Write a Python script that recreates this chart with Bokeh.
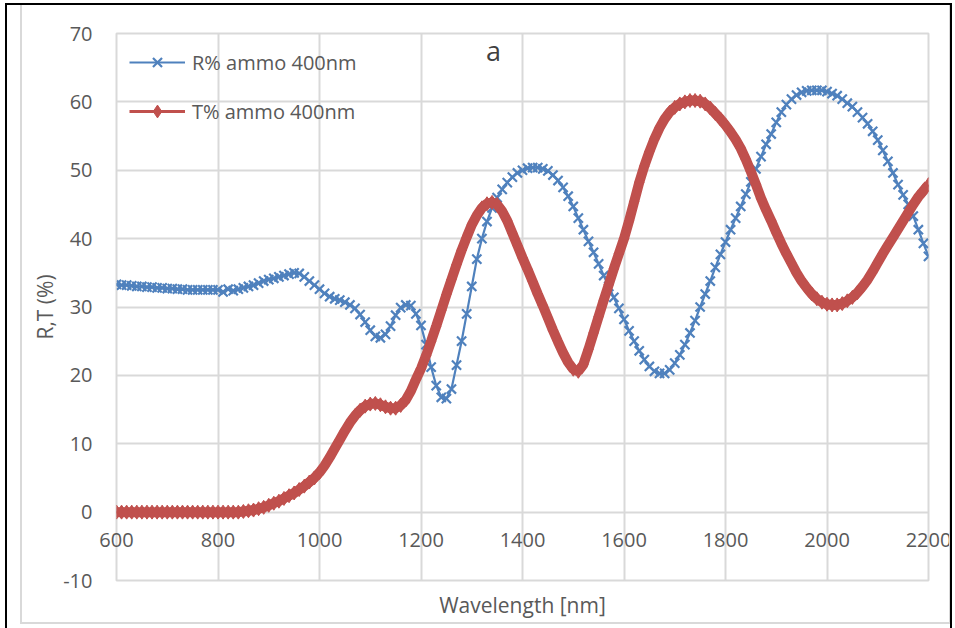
from bokeh.plotting import figure
from bokeh.models import FixedTicker, Label, LegendItem, Legend, InlineStyleSheet
from bokeh.embed import file_html
from bokeh.resources import INLINE

# ---------------- data ----------------
wavelength = list(range(600, 2201, 10))

R_percent = [
    33.3, 33.2, 33.2, 33.1, 33.0, 33.0, 32.9, 32.9, 32.8, 32.8,   # 600-690
    32.7, 32.7, 32.6, 32.6, 32.5, 32.5, 32.5, 32.5, 32.5, 32.5,   # 700-790
    32.5, 32.2, 32.6, 32.4, 32.6, 32.8, 33.0, 33.2, 33.5, 33.8,   # 800-890
    34.0, 34.2, 34.4, 34.6, 34.8, 35.0, 34.9, 34.4, 33.8, 33.2,   # 900-990
    32.6, 32.0, 31.5, 31.2, 31.0, 30.7, 30.3, 29.8, 28.9, 27.8,   # 1000-1090
    26.6, 25.7, 25.5, 26.0, 27.2, 28.8, 29.9, 30.3, 30.2, 29.0,   # 1100-1190
    27.3, 24.5, 21.2, 18.5, 16.8, 16.6, 18.0, 21.5, 25.0, 29.0,   # 1200-1290
    33.0, 37.0, 40.0, 42.5, 44.5, 46.0, 47.2, 48.2, 49.0, 49.6,   # 1300-1390
    50.0, 50.3, 50.4, 50.4, 50.2, 49.9, 49.3, 48.5, 47.5, 46.2,   # 1400-1490
    44.7, 43.0, 41.3, 39.6, 38.0, 36.3, 34.6, 33.0, 31.4, 29.8,   # 1500-1590
    28.2, 26.5, 25.0, 23.6, 22.3, 21.3, 20.6, 20.3, 20.3, 20.8,   # 1600-1690
    21.8, 23.0, 24.5, 26.2, 28.0, 30.0, 31.9, 33.8, 35.8, 37.7,   # 1700-1790
    39.5, 41.3, 43.0, 44.7, 46.5, 48.3, 50.2, 52.0, 53.8, 55.3,   # 1800-1890
    57.0, 58.5, 59.6, 60.4, 61.0, 61.4, 61.6, 61.7, 61.7, 61.7,   # 1900-1990
    61.5, 61.2, 60.9, 60.4, 59.8, 59.3, 58.5, 57.7, 56.8, 55.7,   # 2000-2090
    54.4, 52.9, 51.3, 49.6, 47.9, 46.4, 45.0, 43.3, 41.3, 39.3,   # 2100-2190
    37.4,                                                         # 2200
]

T_percent = [
    0.0, 0.0, 0.0, 0.0, 0.0, 0.0, 0.0, 0.0, 0.0, 0.0,             # 600-690
    0.0, 0.0, 0.0, 0.0, 0.0, 0.0, 0.0, 0.0, 0.0, 0.0,             # 700-790
    0.0, 0.0, 0.0, 0.0, 0.0, 0.1, 0.2, 0.3, 0.5, 0.7,             # 800-890
    1.0, 1.3, 1.6, 2.0, 2.4, 2.8, 3.3, 3.8, 4.4, 5.0,             # 900-990
    5.8, 6.8, 8.0, 9.3, 10.6, 11.9, 13.1, 14.1, 14.9, 15.5,       # 1000-1090
    15.8, 15.9, 15.7, 15.4, 15.2, 15.2, 15.6, 16.4, 17.7, 19.4,   # 1100-1190
    21.0, 22.9, 25.0, 27.2, 29.5, 31.8, 34.0, 36.2, 38.3, 40.2,   # 1200-1290
    42.0, 43.4, 44.5, 45.1, 45.3, 45.0, 44.0, 42.6, 40.8, 39.0,   # 1300-1390
    37.2, 35.5, 33.7, 31.9, 30.2, 28.4, 26.6, 24.9, 23.3, 21.9,   # 1400-1490
    20.9, 20.6, 21.6, 23.8, 26.2, 28.6, 31.0, 33.3, 35.6, 37.8,   # 1500-1590
    40.0, 42.6, 45.4, 48.2, 50.6, 52.7, 54.6, 56.2, 57.5, 58.5,   # 1600-1690
    59.2, 59.7, 60.0, 60.2, 60.2, 60.1, 59.7, 59.1, 58.3, 57.5,   # 1700-1790
    56.6, 55.6, 54.5, 53.2, 51.6, 49.8, 47.9, 45.9, 44.2, 42.6,   # 1800-1890
    40.9, 39.3, 37.8, 36.4, 35.0, 33.8, 32.8, 31.9, 31.2, 30.7,   # 1900-1990
    30.4, 30.3, 30.3, 30.5, 30.9, 31.4, 32.1, 33.0, 34.0, 35.2,   # 2000-2090
    36.5, 37.8, 39.0, 40.2, 41.4, 42.6, 43.8, 45.0, 46.1, 47.0,   # 2100-2190
    47.9,                                                         # 2200
]

x_ticks = [600, 800, 1000, 1200, 1400, 1600, 1800, 2000, 2200]
y_ticks = [-10, 0, 10, 20, 30, 40, 50, 60, 70]

series_R_label = "R% ammo 400nm"
series_T_label = "T% ammo 400nm"
x_label = "Wavelength [nm]"
y_label = "R,T (%)"
panel_tag = "a"

# ---------------- styling ----------------
BLUE = "#4F81BD"
RED = "#C0504D"
GRID = "#D9D9D9"
TEXT = "#595959"
FONT = "Open Sans"

frame_css = InlineStyleSheet(css="""
:host::before { content: ""; position: absolute; left: 20px; top: 3px; width: 931px; height: 621px;
  border: 2px solid #D9D9D9; box-sizing: border-box; z-index: 5; pointer-events: none; }
:host::after { content: ""; position: absolute; left: 5px; top: 3px; width: 947px; height: 700px;
  border: 2.5px solid #000000; box-sizing: border-box; z-index: 6; pointer-events: none; }
""")

p = figure(width=955, height=628, output_backend="svg", toolbar_location=None,
           x_range=(600, 2200), y_range=(-10, 70),
           min_border_left=116, min_border_right=27,
           min_border_top=33, min_border_bottom=48,
           background_fill_color="white", border_fill_color="white",
           stylesheets=[frame_css])

p.outline_line_color = GRID
p.outline_line_width = 2

# grid
p.xgrid.ticker = FixedTicker(ticks=x_ticks)
p.ygrid.ticker = FixedTicker(ticks=y_ticks)
for g in (p.xgrid, p.ygrid):
    g.grid_line_color = GRID
    g.grid_line_width = 2

# y axis
ya = p.yaxis[0]
ya.ticker = FixedTicker(ticks=y_ticks)
ya.major_label_overrides = {t: str(t) for t in y_ticks}
ya.axis_line_color = None
ya.major_tick_line_color = None
ya.minor_tick_line_color = None
ya.major_label_text_font = FONT
ya.major_label_text_font_size = "20px"
ya.major_label_text_color = TEXT
ya.major_label_standoff = 18
ya.axis_label = y_label
ya.axis_label_text_font = FONT
ya.axis_label_text_font_size = "21px"
ya.axis_label_text_font_style = "normal"
ya.axis_label_text_color = TEXT
ya.axis_label_standoff = 1

# x axis: tick labels sit just under the y = 0 line (negative standoff)
xa = p.xaxis[0]
xa.ticker = FixedTicker(ticks=x_ticks)
xa.major_label_overrides = {t: str(t) for t in x_ticks}
xa.axis_line_color = None
xa.major_tick_line_color = None
xa.minor_tick_line_color = None
xa.major_label_text_font = FONT
xa.major_label_text_font_size = "20px"
xa.major_label_text_color = TEXT
xa.major_label_standoff = -54
xa.axis_label = x_label
xa.axis_label_text_font = FONT
xa.axis_label_text_font_size = "21px"
xa.axis_label_text_font_style = "normal"
xa.axis_label_text_color = TEXT
xa.axis_label_standoff = 41

# series
r_line = p.line(wavelength, R_percent, line_color=BLUE, line_width=2.2)
r_pts = p.scatter(wavelength, R_percent, marker="x", size=13, line_color=BLUE, line_width=2.2)

t_band = p.line(wavelength, T_percent, line_color=RED, line_width=10)
t_line = p.line(wavelength, T_percent, line_color=RED, line_width=3)
t_pts = p.scatter(wavelength, T_percent, marker="diamond", size=14,
                  fill_color=RED, line_color=RED, line_width=1)

legend = Legend(items=[
    LegendItem(label=series_R_label, renderers=[r_line, r_pts]),
    LegendItem(label=series_T_label, renderers=[t_line, t_pts]),
])
legend.location = "top_left"
legend.margin = 13
legend.padding = 0
legend.spacing = 17
legend.glyph_width = 56
legend.glyph_height = 32
legend.label_height = 30
legend.label_standoff = 7
legend.label_text_font = FONT
legend.label_text_font_size = "20px"
legend.label_text_color = TEXT
legend.background_fill_alpha = 0
legend.border_line_color = None
p.add_layout(legend, "center")

# panel tag
p.add_layout(Label(x=1343, y=67.5, text=panel_tag, text_align="center",
                   text_baseline="middle", text_font=FONT, text_font_size="27px",
                   text_color="#404040"))

open("out.html", "w").write(file_html(p, INLINE))
